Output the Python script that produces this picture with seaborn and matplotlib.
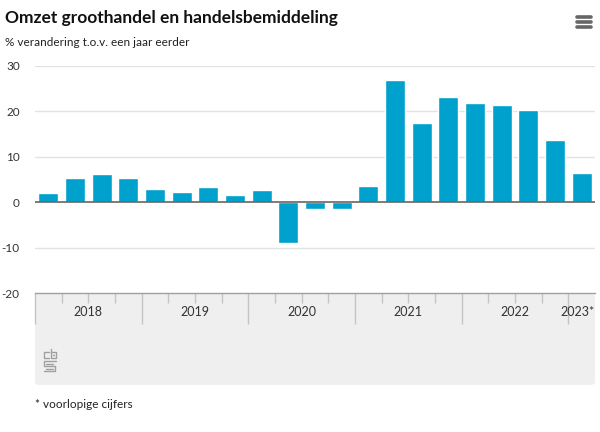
import matplotlib

matplotlib.use("Agg")
import matplotlib.pyplot as plt
import numpy as np
import pandas as pd
import seaborn as sns
from matplotlib.lines import Line2D
from matplotlib.patches import FancyBboxPatch

YEARS = ["2018", "2019", "2020", "2021", "2022", "2023*"]
QUARTERS = [
    "2018 Q1", "2018 Q2", "2018 Q3", "2018 Q4",
    "2019 Q1", "2019 Q2", "2019 Q3", "2019 Q4",
    "2020 Q1", "2020 Q2", "2020 Q3", "2020 Q4",
    "2021 Q1", "2021 Q2", "2021 Q3", "2021 Q4",
    "2022 Q1", "2022 Q2", "2022 Q3", "2022 Q4",
    "2023 Q1",
]
CHANGE = [
    2.1, 5.4, 6.3, 5.3,
    2.9, 2.3, 3.3, 1.5,
    2.7, -9.0, -1.6, -1.6,
    3.6, 26.9, 17.4, 23.1,
    21.8, 21.5, 20.4, 13.8,
    6.5,
]
YTICKS = [-20, -10, 0, 10, 20, 30]

BAR_COLOR = "#00a1cd"
W, H = 600, 432

sns.set_style("white")
plt.rcParams["font.family"] = ["Lato", "DejaVu Sans"]

df = pd.DataFrame({"kwartaal": QUARTERS, "verandering": CHANGE})

fig = plt.figure(figsize=(W / 100, H / 100), dpi=100)
ax = fig.add_axes([35 / W, 1 - 293 / H, 560 / W, (293 - 66) / H])

sns.barplot(data=df, x="kwartaal", y="verandering", order=QUARTERS,
            color=BAR_COLOR, saturation=1, width=0.75, ax=ax, zorder=3)

ax.set_xlim(-0.5, len(QUARTERS) - 0.5)
ax.set_ylim(-20, 30)
ax.set_yticks(YTICKS)
ax.set_yticklabels([str(v) for v in YTICKS], fontsize=8.5, color="#333333")
for v in YTICKS[1:]:
    if v != 0:
        ax.axhline(v, color="#e3e3e3", lw=1, zorder=1)
ax.axhline(0, color="#666666", lw=1.2, zorder=4)
ax.set_xlabel("")
ax.set_ylabel("")

# year separators (long) and quarter ticks (short)
year_start = [i for i, q in enumerate(QUARTERS) if q.endswith("Q1")]
bounds = np.arange(len(QUARTERS)) - 0.5
major = [b for b in bounds if int(b + 0.5) in year_start]
minor = [b for b in bounds if int(b + 0.5) not in year_start]
ax.set_xticks(major)
ax.set_xticklabels([])
ax.set_xticks(minor, minor=True)
ax.tick_params(axis="x", which="both", bottom=True, direction="out")
ax.tick_params(axis="x", which="major", length=22, color="#c4c4c4", width=1)
ax.tick_params(axis="x", which="minor", length=7, color="#c4c4c4", width=1)
ax.tick_params(axis="y", length=0, pad=11)

for s in ["top", "right", "left"]:
    ax.spines[s].set_visible(False)
ax.spines["bottom"].set_color("#a0a0a0")
ax.spines["bottom"].set_linewidth(1)

# year labels centred under each group
for k, yr in enumerate(YEARS):
    start = year_start[k]
    end = year_start[k + 1] - 1 if k + 1 < len(year_start) else len(QUARTERS) - 1
    center = (start + end) / 2
    ha = "center"
    if k == len(YEARS) - 1:
        center, ha = len(QUARTERS) - 0.5, "right"
    ax.annotate(yr, xy=(center, 0), xycoords=("data", "axes fraction"),
                xytext=(0, -14), textcoords="offset points",
                ha=ha, va="center", fontsize=9, color="#333333")

# grey band behind the axis labels
band = FancyBboxPatch((35 / W, 1 - 385 / H), 560 / W, 92 / H,
                      boxstyle="round,pad=0,rounding_size=0.008",
                      transform=fig.transFigure, facecolor="#efefef",
                      edgecolor="none", zorder=-1)
fig.add_artist(band)


# simple cbs logo
def px(x, y):
    return x / W, 1 - y / H


logo_col = "#a0a0a0"
for xs, ys in [
    ([49, 44, 44, 49], [352, 352, 358, 358]),
    ([51, 51, 56, 56, 51], [349, 358, 358, 352, 352]),
    ([53, 54], [355, 355]),
    ([56, 44, 44, 55, 55, 44], [361, 361, 366, 366, 371, 371]),
    ([46, 53], [363.5, 363.5]),
    ([46, 53], [368.5, 368.5]),
]:
    pts = [px(a, b) for a, b in zip(xs, ys)]
    fig.add_artist(Line2D([p[0] for p in pts], [p[1] for p in pts],
                          color=logo_col, lw=1, transform=fig.transFigure))

# hamburger menu icon
for yy in [17, 22, 27]:
    fig.add_artist(Line2D([577 / W, 591 / W], [1 - yy / H, 1 - yy / H],
                          color="#666666", lw=2.6, transform=fig.transFigure))

fig.text(5 / W, 1 - 18 / H, "Omzet groothandel en handelsbemiddeling",
         fontsize=12.5, fontweight="bold", color="#111111", va="center")
fig.text(5 / W, 1 - 43 / H, "% verandering t.o.v. een jaar eerder",
         fontsize=8.5, color="#222222", va="center")
fig.text(35 / W, 1 - 405 / H, "* voorlopige cijfers",
         fontsize=8.5, color="#222222", va="center")

fig.savefig("out.png", dpi=100)
